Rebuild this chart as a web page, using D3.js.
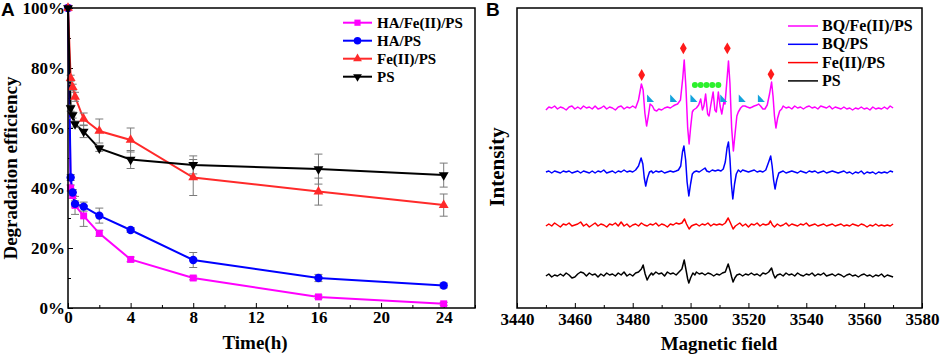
<!DOCTYPE html>
<html>
<head>
<meta charset="utf-8">
<script src="https://cdn.jsdelivr.net/npm/d3@7"></script>
<style>
  body { margin: 0; background: #fff; }
  svg { display: block; }
</style>
</head>
<body>
<svg id="chart" width="941" height="357"></svg>
<script>
// ---- panel A data ----
const times = [0, 0.17, 0.3, 0.45, 1, 2, 4, 8, 16, 24];
const haFePs = [100, 40, 37.5, 34.2, 30.7, 24.9, 16.2, 10, 3.7, 1.4];
const haFePsErr = [0, 1, 1, 3, 3.5, 1, 0.8, 0.6, 0.6, 0.5];
const haPs = [100, 43.5, 38.5, 34.7, 33.8, 30.8, 26, 16, 10, 7.5];
const haPsErr = [0, 1, 1, 1, 1.5, 2.5, 0.8, 2.5, 1.2, 0.8];
const fePs = [100, 76.6, 73.6, 70.4, 63, 59, 56, 43.5, 38.8, 34.3];
const fePsErr = [0, 1, 1, 1.5, 2, 4, 4, 6, 4.5, 3.7];
const ps = [100, 66.6, 64.3, 61.3, 58.8, 53.2, 49.5, 47.7, 46.3, 44.3];
const psErr = [0, 1, 1, 1, 2, 1, 3, 3, 5, 4];
const namesA = ["HA/Fe(II)/PS", "HA/PS", "Fe(II)/PS", "PS"];
const xTicksA = [0, 4, 8, 12, 16, 20, 24];
const yTicksA = [0, 20, 40, 60, 80, 100];

// ---- panel B data (field, signal relative to trace baseline) ----
const bqFePs = [[3450,-2],[3451,1],[3452,0],[3453,2],[3454,-1],[3455,1],[3456,0],[3457,-2],[3458,1],[3459,2],[3460,-1],[3461,1],[3462,-1],[3463,2],[3464,0],[3465,1],[3466,-1],[3467,2],[3468,-1],[3469,0],[3470,2],[3471,-1],[3472,1],[3473,0],[3474,-2],[3475,1],[3476,2],[3477,-1],[3478,1],[3479,0],[3480,2],[3481,0],[3482,8],[3483,24],[3483.6,18],[3484.2,-5],[3484.8,-18],[3485.4,-8],[3486,4],[3486.8,2],[3487.5,-2],[3488.3,-3],[3489,-1],[3490,-2],[3491,0],[3492,1],[3493,0],[3494,2],[3494.6,3],[3495.5,4],[3496.5,8],[3497.3,30],[3497.8,48],[3498.4,20],[3499,-20],[3499.5,-36],[3500,-20],[3500.6,-4],[3501,-2],[3502,0],[3502.8,3],[3503.5,9],[3504.1,-2],[3504.6,2],[3505.2,14],[3505.9,-6],[3506.4,-8],[3507,3],[3507.8,16],[3508.4,-2],[3508.9,-4],[3509.6,16],[3510.2,2],[3510.8,-6],[3511.5,6],[3511.9,4],[3512.5,25],[3513.1,47],[3513.6,25],[3514.2,-20],[3514.8,-43],[3515.4,-25],[3516,-8],[3516.5,-4],[3517.3,0],[3518,2],[3518.8,2],[3519.6,1],[3520.5,0],[3521.3,1],[3522,2],[3523,3],[3523.5,4],[3524.2,2],[3525,-1],[3525.7,-1],[3526.5,3],[3527.3,14],[3528,26],[3528.5,12],[3529,-8],[3529.5,-20],[3530.1,-10],[3530.8,-3],[3531.5,-1],[3532,2],[3533,0],[3534,1],[3535,-1],[3536,2],[3537,0],[3538,1],[3539,-1],[3540,1],[3541,2],[3542,0],[3543,1],[3544,-1],[3545,2],[3546,1],[3547,0],[3548,2],[3549,-1],[3550,1],[3551,0],[3552,-1],[3553,1],[3554,-1],[3555,0],[3556,-2],[3557,0],[3558,-1],[3559,1],[3560,-1],[3561,0],[3562,-2],[3563,1],[3564,-1],[3565,0],[3566,-1],[3567,1],[3568,-1],[3569,2],[3570,0]];
const bqPs = [[3450,0],[3451,1],[3452,-1],[3453,1],[3454,0],[3455,-1],[3456,1],[3457,0],[3458,1],[3459,-1],[3460,0],[3461,1],[3462,-1],[3463,1],[3464,0],[3465,-1],[3466,1],[3467,-1],[3468,1],[3469,0],[3470,2],[3471,-1],[3472,0],[3473,1],[3474,-1],[3475,1],[3476,0],[3477,2],[3478,0],[3479,1],[3480,0],[3481,2],[3482,6],[3482.9,14],[3483.5,8],[3484,-6],[3484.5,-14],[3485.1,-6],[3485.8,0],[3486.5,1],[3487,-1],[3488,1],[3489,0],[3490,1],[3491,-1],[3492,0],[3493,1],[3494,0],[3495,1],[3495.8,2],[3496.6,6],[3497.2,20],[3497.7,26],[3498.3,12],[3498.8,-10],[3499.4,-24],[3500,-12],[3500.6,-2],[3501.2,0],[3502,1],[3503,0],[3504,2],[3505,4],[3505.6,1],[3506.5,0],[3507.5,2],[3508.5,1],[3509.5,2],[3510.5,1],[3511.3,3],[3512,10],[3512.6,24],[3513.1,30],[3513.6,14],[3514.1,-12],[3514.6,-27],[3515.2,-12],[3515.8,-2],[3516.5,2],[3517.3,0],[3518,2],[3519,1],[3520,0],[3521,1],[3522,2],[3523,0],[3524,1],[3525,0],[3526,2],[3527,10],[3527.7,16],[3528.2,6],[3528.7,-8],[3529.2,-17],[3529.8,-8],[3530.5,-1],[3531.2,0],[3532,1],[3533,-1],[3534,0],[3535,1],[3536,0],[3537,-1],[3538,1],[3539,0],[3540,-1],[3541,1],[3542,0],[3543,1],[3544,-1],[3545,0],[3546,1],[3547,-1],[3548,0],[3549,1],[3550,0],[3551,-1],[3552,0],[3553,1],[3554,-1],[3555,0],[3556,-2],[3557,0],[3558,-1],[3559,1],[3560,-2],[3561,0],[3562,-1],[3563,0],[3564,-2],[3565,0],[3566,-1],[3567,0],[3568,-1],[3569,1],[3570,0]];
const feIIPs = [[3450,-1],[3451,1],[3452,-1],[3453,2],[3454,0],[3455,-2],[3456,1],[3457,0],[3458,2],[3459,-1],[3460,0],[3461,1],[3462,3],[3463,-1],[3464,1],[3465,-2],[3466,0],[3467,2],[3468,-1],[3469,1],[3470,0],[3471,-2],[3472,1],[3473,0],[3474,2],[3475,-1],[3476,3],[3477,-1],[3478,1],[3479,-2],[3480,0],[3481,1],[3482,-1],[3483,2],[3484,0],[3485,-1],[3486,1],[3487,0],[3488,2],[3489,-1],[3490,1],[3491,0],[3492,-2],[3493,1],[3494,0],[3495,2],[3496,1],[3497,2],[3497.9,6],[3498.6,1],[3499.5,-4],[3500.3,-1],[3501,0],[3502,1],[3503,-1],[3504,1],[3505,0],[3506,2],[3507,-1],[3508,1],[3509,0],[3510,1],[3511,0],[3512,2],[3513,7],[3513.8,2],[3514.7,-4],[3515.5,-1],[3516,0],[3517,2],[3518,-1],[3519,1],[3520,-2],[3521,1],[3522,0],[3523,2],[3524,-1],[3525,1],[3526,0],[3527,1],[3527.6,4],[3528.3,0],[3529,-2],[3530,1],[3531,-1],[3532,0],[3533,2],[3534,-1],[3535,1],[3536,0],[3537,-1],[3538,1],[3539,0],[3540,2],[3541,-1],[3542,0],[3543,1],[3544,-1],[3545,0],[3546,1],[3547,-1],[3548,0],[3549,1],[3550,-1],[3551,0],[3552,1],[3553,-1],[3554,0],[3555,-1],[3556,1],[3557,0],[3558,-1],[3559,1],[3560,0],[3561,-2],[3562,0],[3563,-1],[3564,1],[3565,-1],[3566,0],[3567,-1],[3568,0],[3569,-1],[3570,1]];
const psOnly = [[3450,-1],[3451,1],[3452,-2],[3453,0],[3454,-1],[3455,1],[3456,-1],[3457,2],[3458,0],[3459,-3],[3460,-2],[3461,1],[3462,3],[3463,2],[3464,-1],[3465,2],[3466,0],[3467,1],[3468,-2],[3469,1],[3470,-1],[3471,2],[3472,0],[3473,1],[3474,-1],[3475,2],[3476,0],[3477,3],[3478,-1],[3479,1],[3480,-1],[3481,2],[3482,3],[3483,6],[3483.6,10],[3484.3,1],[3485,-5],[3485.7,-1],[3486.5,2],[3487,0],[3488,3],[3489,1],[3490,2],[3491,-1],[3492,3],[3493,1],[3494,2],[3495,0],[3496,3],[3497,6],[3497.8,15],[3498.5,4],[3499,-4],[3499.4,-8],[3500,-3],[3500.8,2],[3501.5,0],[3502,3],[3503,1],[3504,2],[3505,0],[3506,2],[3507,1],[3508,-1],[3509,1],[3510,0],[3511,2],[3512,3],[3513,11],[3513.7,4],[3514.2,-2],[3514.7,-7],[3515.3,-3],[3516,0],[3517,1],[3518,-1],[3519,1],[3520,0],[3521,2],[3522,0],[3523,1],[3524,-1],[3525,2],[3526,1],[3527,3],[3528,7],[3528.6,1],[3529.2,-3],[3530,0],[3531,1],[3532,-1],[3533,2],[3534,0],[3535,1],[3536,-1],[3537,2],[3538,0],[3539,-1],[3540,1],[3541,0],[3542,2],[3543,-1],[3544,1],[3545,0],[3546,2],[3547,-1],[3548,0],[3549,1],[3550,-1],[3551,1],[3552,0],[3553,-2],[3554,0],[3555,1],[3556,-1],[3557,0],[3558,-2],[3559,0],[3560,1],[3561,-1],[3562,0],[3563,-2],[3564,0],[3565,-1],[3566,1],[3567,-2],[3568,0],[3569,-1],[3570,-2]];
const namesB = ["BQ/Fe(II)/PS", "BQ/PS", "Fe(II)/PS", "PS"];
const traceBaselines = [200, 136, 83, 33];
const diamondFields = [3483.1, 3497.5, 3512.7, 3527.8];
const diamondLevels = [233, 259.7, 259.7, 233.7];
const wedgeFields = [3486, 3494, 3501, 3511.3, 3517.7, 3524.3];
const wedgeLevel = 209.5;
const dotFields = [3501.5, 3503.5, 3505.5, 3507.5, 3509.6];
const dotLevel = 223;
const xTicksB = [3440, 3460, 3480, 3500, 3520, 3540, 3560, 3580];

const serif = "'Liberation Serif', 'Times New Roman', serif";
const sans = "'Liberation Sans', Arial, sans-serif";
const svg = d3.select("#chart");

// ================= panel A =================
const xA = d3.scaleLinear().domain([0, 26]).range([68, 475]);
const yA = d3.scaleLinear().domain([0, 100]).range([308, 8]);

const seriesA = [
  { name: namesA[0], vals: haFePs, err: haFePsErr, color: "#ff00ff", sym: d3.symbolSquare, size: 48, rot: 0 },
  { name: namesA[1], vals: haPs, err: haPsErr, color: "#0000ff", sym: d3.symbolCircle, size: 55, rot: 0 },
  { name: namesA[2], vals: fePs, err: fePsErr, color: "#ff2a2a", sym: d3.symbolTriangle, size: 42, rot: 0 },
  { name: namesA[3], vals: ps, err: psErr, color: "#000000", sym: d3.symbolTriangle, size: 42, rot: 180 }
];

const gA = svg.append("g");

// minor ticks
gA.append("g")
  .attr("transform", "translate(0,308)")
  .call(d3.axisBottom(xA).tickValues([2, 6, 10, 14, 18, 22, 26]).tickSize(-3).tickFormat(""))
  .call(g => g.select(".domain").remove());
gA.append("g")
  .attr("transform", "translate(68,0)")
  .call(d3.axisLeft(yA).tickValues([10, 30, 50, 70, 90]).tickSize(-3).tickFormat(""))
  .call(g => g.select(".domain").remove());

const xAxisA = gA.append("g")
  .attr("transform", "translate(0,308)")
  .call(d3.axisBottom(xA).tickValues(xTicksA).tickSize(-5).tickPadding(3).tickFormat(d3.format("d")));
xAxisA.select(".domain").remove();
xAxisA.selectAll("text")
  .style("font-family", serif).style("font-weight", "bold").style("font-size", "17px").attr("fill", "#000");

const yAxisA = gA.append("g")
  .attr("transform", "translate(68,0)")
  .call(d3.axisLeft(yA).tickValues(yTicksA).tickSize(-5).tickPadding(3).tickFormat(d => d + "%"));
yAxisA.select(".domain").remove();
yAxisA.selectAll("text")
  .style("font-family", serif).style("font-weight", "bold").style("font-size", "17px").attr("fill", "#000");

const line = d3.line().x(d => xA(d[0])).y(d => yA(d[1]));

seriesA.forEach(s => {
  const pts = times.map((t, i) => [t, s.vals[i], s.err[i]]);
  gA.append("path")
    .datum(pts)
    .attr("d", line)
    .attr("fill", "none")
    .attr("stroke", s.color)
    .attr("stroke-width", 2);
});

// error bars
seriesA.forEach(s => {
  const pts = times.map((t, i) => [t, s.vals[i], s.err[i]]).filter(d => d[2] > 0);
  const eb = gA.append("g").attr("stroke", "#7a7a7a").attr("stroke-width", 1).attr("fill", "none");
  eb.selectAll("line.v").data(pts).join("line")
    .attr("x1", d => xA(d[0])).attr("x2", d => xA(d[0]))
    .attr("y1", d => yA(d[1] - d[2])).attr("y2", d => yA(d[1] + d[2]));
  [1, -1].forEach(sg => {
    eb.selectAll(null).data(pts).join("line")
      .attr("x1", d => xA(d[0]) - 4).attr("x2", d => xA(d[0]) + 4)
      .attr("y1", d => yA(d[1] + sg * d[2])).attr("y2", d => yA(d[1] + sg * d[2]));
  });
});

seriesA.forEach(s => {
  const pts = times.map((t, i) => [t, s.vals[i]]);
  gA.append("g").selectAll("path").data(pts).join("path")
    .attr("d", d3.symbol().type(s.sym).size(s.size))
    .attr("transform", d => `translate(${xA(d[0])},${yA(d[1])}) rotate(${s.rot})`)
    .attr("fill", s.color);
});

// frame
gA.append("rect")
  .attr("x", 68).attr("y", 8).attr("width", 475 - 68).attr("height", 300)
  .attr("fill", "none").attr("stroke", "#000").attr("stroke-width", 1.5);

// legend A
const legA = gA.append("g");
seriesA.forEach((s, i) => {
  const cy = 22.7 + i * 18;
  legA.append("line").attr("x1", 343).attr("x2", 372).attr("y1", cy).attr("y2", cy)
    .attr("stroke", s.color).attr("stroke-width", 2);
  legA.append("path")
    .attr("d", d3.symbol().type(s.sym).size(s.size * 0.8))
    .attr("transform", `translate(357.5,${cy}) rotate(${s.rot})`)
    .attr("fill", s.color);
  legA.append("text").attr("x", 377).attr("y", cy + 5)
    .style("font-family", serif).style("font-weight", "bold").style("font-size", "15px")
    .text(s.name);
});

gA.append("text")
  .attr("x", 255).attr("y", 349).attr("text-anchor", "middle")
  .style("font-family", serif).style("font-weight", "bold").style("font-size", "19px")
  .text("Time(h)");
gA.append("text")
  .attr("transform", "translate(17,168) rotate(-90)").attr("text-anchor", "middle")
  .style("font-family", serif).style("font-weight", "bold").style("font-size", "19px")
  .text("Degradation efficiency");
gA.append("text")
  .attr("x", 1).attr("y", 16)
  .style("font-family", sans).style("font-weight", "bold").style("font-size", "19px")
  .text("A");

// ================= panel B =================
const xB = d3.scaleLinear().domain([3440, 3580]).range([517, 922]);
const yB = d3.scaleLinear().domain([0, 300]).range([308, 8]);
const gB = svg.append("g");

gB.append("g")
  .attr("transform", "translate(0,308)")
  .call(d3.axisBottom(xB).tickValues(d3.range(3450, 3580, 20)).tickSize(-3).tickFormat(""))
  .call(g => g.select(".domain").remove());
const xAxisB = gB.append("g")
  .attr("transform", "translate(0,308)")
  .call(d3.axisBottom(xB).tickValues(xTicksB).tickSize(-5).tickPadding(5).tickFormat(d3.format("d")));
xAxisB.select(".domain").remove();
xAxisB.selectAll("text")
  .style("font-family", serif).style("font-weight", "bold").style("font-size", "17px").attr("fill", "#000");

const tracesB = [
  { name: namesB[0], data: bqFePs, color: "#ff00ff" },
  { name: namesB[1], data: bqPs, color: "#0000ff" },
  { name: namesB[2], data: feIIPs, color: "#ff0000" },
  { name: namesB[3], data: psOnly, color: "#000000" }
];
tracesB.forEach((t, i) => {
  const off = traceBaselines[i];
  gB.append("path")
    .datum(t.data)
    .attr("d", d3.line().x(d => xB(d[0])).y(d => yB(off + d[1])))
    .attr("fill", "none")
    .attr("stroke", t.color)
    .attr("stroke-width", 1.5)
    .attr("stroke-linejoin", "round");
});

// annotations on top trace
gB.append("g").selectAll("path").data(diamondFields).join("path")
  .attr("d", d3.symbol().type(d3.symbolDiamond).size(40))
  .attr("transform", (d, i) => `translate(${xB(d)},${yB(diamondLevels[i])})`)
  .attr("fill", "#ff1a1a");
gB.append("g").selectAll("path").data(wedgeFields).join("path")
  .attr("d", "M-3,-4 L4,3.5 L-3,3.5 Z")
  .attr("transform", d => `translate(${xB(d)},${yB(wedgeLevel)})`)
  .attr("fill", "#13a3dc");
gB.append("g").selectAll("circle").data(dotFields).join("circle")
  .attr("cx", d => xB(d)).attr("cy", yB(dotLevel)).attr("r", 3)
  .attr("fill", "#2cf02c");

gB.append("rect")
  .attr("x", 517).attr("y", 8).attr("width", 922 - 517).attr("height", 300)
  .attr("fill", "none").attr("stroke", "#000").attr("stroke-width", 1.5);

const legB = gB.append("g");
tracesB.forEach((t, i) => {
  const cy = 26 + i * 18.3;
  legB.append("line").attr("x1", 788).attr("x2", 818).attr("y1", cy).attr("y2", cy)
    .attr("stroke", t.color).attr("stroke-width", 1.5);
  legB.append("text").attr("x", 822).attr("y", cy + 5)
    .style("font-family", serif).style("font-weight", "bold").style("font-size", "16px")
    .text(t.name);
});

gB.append("text")
  .attr("x", 719).attr("y", 350).attr("text-anchor", "middle")
  .style("font-family", serif).style("font-weight", "bold").style("font-size", "19px")
  .text("Magnetic field");
gB.append("text")
  .attr("transform", "translate(504,167) rotate(-90)").attr("text-anchor", "middle")
  .style("font-family", serif).style("font-weight", "bold").style("font-size", "21px")
  .text("Intensity");
gB.append("text")
  .attr("x", 486).attr("y", 16)
  .style("font-family", sans).style("font-weight", "bold").style("font-size", "19px")
  .text("B");
</script>
</body>
</html>
